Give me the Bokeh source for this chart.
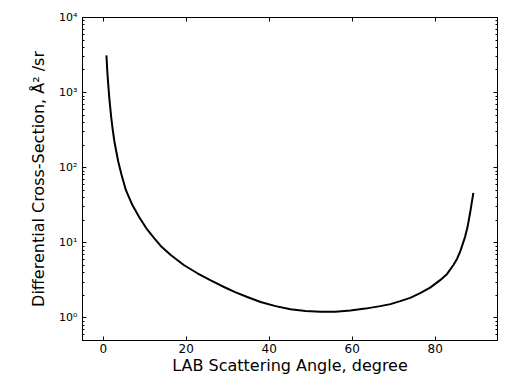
from bokeh.plotting import figure
from bokeh.models import (FixedTicker, LinearAxis, LogAxis, Range1d,
                          CustomJSTickFormatter)
from bokeh.embed import file_html
from bokeh.resources import INLINE

# Data
angle_deg = [0.77, 0.96, 1.18, 1.51, 1.92, 2.24, 2.64, 3.08, 3.61, 4.40, 5.46,
             7.02, 8.65, 10.34, 12.26, 14.11, 16.27, 19.40, 22.69, 25.9,
             29.09, 31.9, 34.71, 37.91, 41.52, 45.12, 48.73, 52.33, 55.94,
             59.54, 63.15, 66.75, 69.2, 71.56, 73.96, 76.37, 78.77, 81.18,
             82.86, 84.38, 85.27, 85.99, 87.19, 87.79, 88.39, 89.18]
cross_section = [3126, 1977, 1327, 789, 469, 335, 232, 171, 121, 80.4, 50.2,
                 31.8, 22.0, 15.7, 11.57, 8.78, 6.88, 5.06, 3.93, 3.15,
                 2.58, 2.19, 1.90, 1.63, 1.435, 1.305, 1.239, 1.205, 1.209,
                 1.258, 1.329, 1.435, 1.525, 1.672, 1.85, 2.136, 2.53, 3.18,
                 3.85, 5.06, 6.14, 7.60, 12.0, 16.3, 24.9, 46.2]

x_ticks = [0, 20, 40, 60, 80]
y_ticks = [1, 10, 100, 1000, 10000]
y_tick_labels = {1: "10⁰", 10: "10¹", 100: "10²", 1000: "10³", 10000: "10⁴"}
y_minor = [m * 10 ** e for e in range(-1, 4) for m in range(2, 10) if 0.5 <= m * 10 ** e <= 10000]

FONT = "DejaVu Sans"

p = figure(width=510, height=377, output_backend="svg", toolbar_location=None,
           y_axis_type="log", x_range=Range1d(-5, 95), y_range=Range1d(0.5, 10000),
           min_border_left=82, min_border_right=13, min_border_top=17,
           min_border_bottom=36, background_fill_color="white",
           border_fill_color="white")
p.outline_line_color = "black"
p.outline_line_width = 1
p.grid.visible = False

p.line(angle_deg, cross_section, line_color="black", line_width=2)

xt = FixedTicker(ticks=x_ticks, minor_ticks=[])
yt = FixedTicker(ticks=y_ticks, minor_ticks=y_minor)

def style(ax, size="11px"):
    ax.major_tick_in = 4
    ax.major_tick_out = 0
    ax.minor_tick_in = 2
    ax.minor_tick_out = 0
    ax.axis_line_color = "black"
    ax.major_tick_line_color = "black"
    ax.minor_tick_line_color = "black"
    ax.major_label_text_font = FONT
    ax.major_label_text_font_size = size
    ax.major_label_text_color = "black"
    ax.axis_label_text_font = FONT
    ax.axis_label_text_font_size = "16px"
    ax.axis_label_text_font_style = "normal"
    ax.axis_label_text_color = "black"

xa = p.xaxis[0]
xa.ticker = xt
style(xa, "12px")
xa.axis_label = "LAB Scattering Angle, degree"
xa.major_label_standoff = 3
xa.axis_label_standoff = 0

ya = p.yaxis[0]
ya.ticker = yt
style(ya)
ya.major_label_overrides = y_tick_labels
ya.axis_label = "Differential Cross-Section, Å² /sr"
ya.major_label_standoff = 5
ya.axis_label_standoff = 8

empty = CustomJSTickFormatter(code="return '';")
top = LinearAxis(ticker=xt, formatter=empty)
style(top)
top.major_label_standoff = 0
p.add_layout(top, "above")

right = LogAxis(ticker=yt, formatter=empty)
style(right)
right.major_label_standoff = 0
p.add_layout(right, "right")

open("out.html", "w").write(file_html(p, INLINE))
